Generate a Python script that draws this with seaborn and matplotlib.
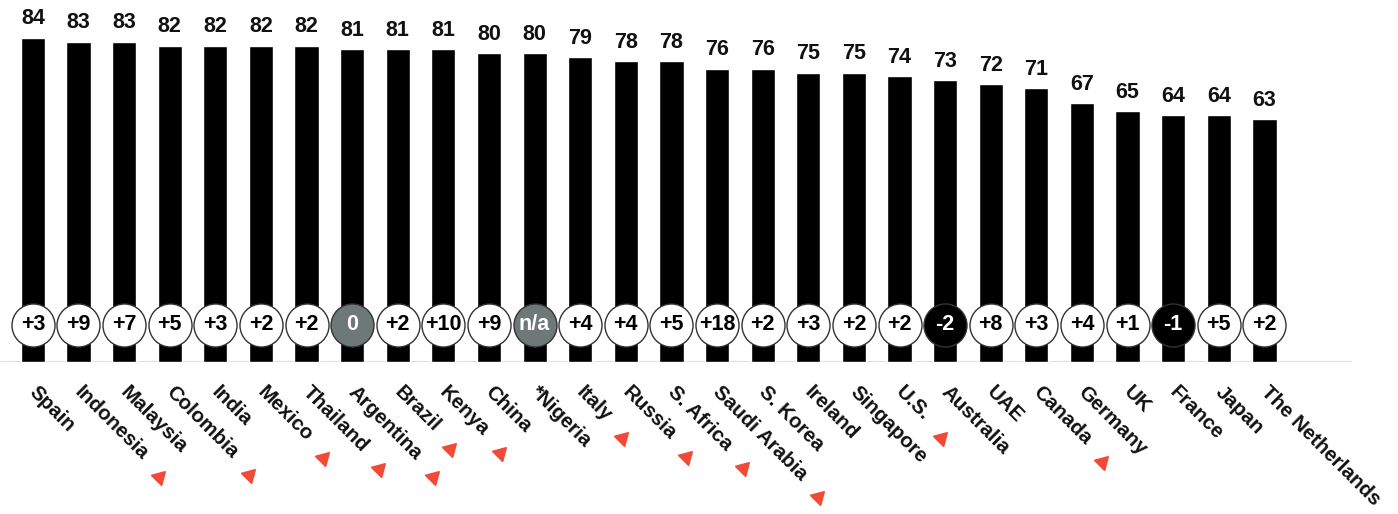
import matplotlib
matplotlib.use('Agg')
import matplotlib.pyplot as plt
import matplotlib.transforms as mtransforms
import seaborn as sns

countries = ['Spain', 'Indonesia', 'Malaysia', 'Colombia', 'India', 'Mexico', 'Thailand',
             'Argentina', 'Brazil', 'Kenya', 'China', '*Nigeria', 'Italy', 'Russia',
             'S. Africa', 'Saudi Arabia', 'S. Korea', 'Ireland', 'Singapore', 'U.S.',
             'Australia', 'UAE', 'Canada', 'Germany', 'UK', 'France', 'Japan',
             'The Netherlands']
scores = [84, 83, 83, 82, 82, 82, 82, 81, 81, 81, 80, 80, 79, 78, 78, 76, 76, 75, 75, 74,
          73, 72, 71, 67, 65, 64, 64, 63]
changes = ['+3', '+9', '+7', '+5', '+3', '+2', '+2', '0', '+2', '+10', '+9', 'n/a', '+4', '+4',
           '+5', '+18', '+2', '+3', '+2', '+2', '-2', '+8', '+3', '+4', '+1', '-1', '+5', '+2']
flagged = ['Indonesia', 'Colombia', 'Mexico', 'Thailand', 'Argentina', 'Brazil', 'Kenya',
           'Italy', 'Russia', 'S. Africa', 'Saudi Arabia', 'U.S.', 'Canada']

sns.set_theme(style='white')
plt.rcParams['font.family'] = ['Liberation Sans', 'DejaVu Sans']

fig = plt.figure(figsize=(13.98, 5.14), dpi=100)
ax = fig.add_axes([0, 152 / 514, 1352 / 1398, 362 / 514])

sns.barplot(x=countries, y=scores, color='black', width=0.53, saturation=1, ax=ax, zorder=2)

# value labels above the bars
for i, v in enumerate(scores):
    ax.annotate(str(v), (i, v), xytext=(0, 6), textcoords='offset points',
                ha='center', va='bottom', fontsize=15.5, fontweight='bold', color='#111111')

# change circles near the base
circle_y = 9.6
for i, c in enumerate(changes):
    if c in ('0', 'n/a'):
        face, txt = '#6e7877', 'white'
    elif c.startswith('-'):
        face, txt = 'black', 'white'
    else:
        face, txt = 'white', 'black'
    ax.scatter(i, circle_y, s=960, facecolor=face, edgecolor='#333333', linewidth=1.0, zorder=3)
    ax.text(i, circle_y, c, ha='center', va='center', fontsize=15.5, fontweight='bold',
            color=txt, zorder=4)

ax.axhline(0, color='#dcdcdc', lw=2, zorder=1)
ax.set_xlim(-0.72, 28.92)
ax.set_ylim(0, 93.8)
ax.set_yticks([])
ax.set_ylabel('')
sns.despine(ax=ax, left=True, bottom=True)

ax.set_xticks(range(len(countries)))
ax.set_xticklabels(countries, rotation=-45, ha='left', va='top', rotation_mode='anchor',
                   fontsize=14.8, fontweight='bold', color='#111111')
ax.tick_params(axis='x', length=0, pad=15)
shift = mtransforms.ScaledTranslation(6 / 100, 0, fig.dpi_scale_trans)
for lab in ax.get_xticklabels():
    lab.set_transform(lab.get_transform() + shift)

# red markers after flagged labels
fig.canvas.draw()
renderer = fig.canvas.get_renderer()
inv = fig.transFigure.inverted()
for lab in ax.get_xticklabels():
    if lab.get_text() in flagged:
        bb = lab.get_window_extent(renderer)
        fx, fy = inv.transform((bb.x1 + 7, bb.y0 - 13))
        fig.add_artist(plt.Line2D([fx], [fy], marker=(3, 0, 195), markersize=12,
                                  color='#f24a36', linestyle='none',
                                  transform=fig.transFigure))

fig.savefig('out.png', dpi=100)
